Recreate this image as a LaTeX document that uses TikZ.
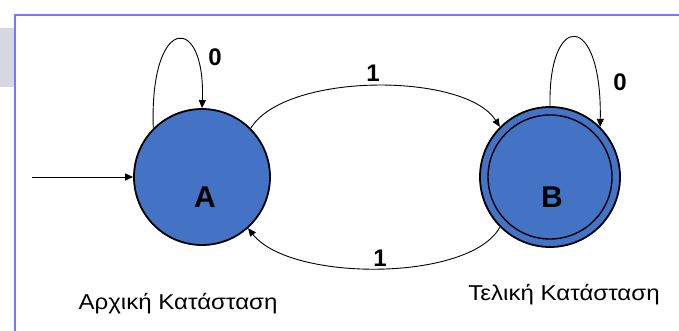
\documentclass[tikz,border=0pt]{standalone}
\usepackage{fontspec}
\setmainfont{Liberation Sans}
\newfontfamily\capfont{Liberation Sans}[FakeStretch=1.12]
\usetikzlibrary{arrows.meta}
\definecolor{stateblue}{HTML}{4472C4}
\definecolor{framecol}{HTML}{7777FF}
\definecolor{tabgrey}{HTML}{D6D7E1}
\tikzset{
  statenode/.style={circle, draw=black, line width=1.8pt, fill=stateblue, minimum size=136pt, inner sep=0pt},
  finalnode/.style={circle, draw=black, line width=1.8pt, fill=stateblue, minimum size=140pt, inner sep=0pt},
  innerring/.style={circle, draw=black, line width=1.4pt, minimum size=124pt, inner sep=0pt},
  edge/.style={line width=0.9pt, -{Triangle[length=8pt,width=7pt]}},
  statelabel/.style={font=\fontsize{30}{30}\selectfont\bfseries, anchor=base},
  sym/.style={font=\fontsize{24}{24}\selectfont\bfseries, anchor=base},
  caption/.style={font=\capfont\fontsize{21.5}{21.5}\selectfont, anchor=base}
}
\begin{document}
\begin{tikzpicture}[x=1pt,y=-1pt]
\useasboundingbox (0,0) rectangle (679,331);
\fill[tabgrey] (0,28) rectangle (14,87);
\draw[framecol, line width=2.5pt] (15,340) -- (15,15) -- (690,15);

\node[statenode] (A) at (202,177) {};
\node[finalnode] (B) at (550,177) {};
\node[innerring] (Bin) at (550,177) {};

\node[statelabel] (la) at (205,207) {A};
\node[statelabel] (lb) at (552,207) {B};

\coordinate (start) at (32,177);
\draw[edge] (start) -- (A.west);

\draw[edge] (A.135) .. controls +(-4,-115) and +(4,-95) .. (A.90);
\draw[edge] (B.90) .. controls +(-2,-95) and +(2,-116) .. (B.45);
\draw[edge] (A.45) .. controls (285,72) and (465,72) .. (B.135);
\draw[edge] (B.225) .. controls (470,282) and (290,282) .. (A.-48);

\node[sym] (z1) at (215,66) {0};
\node[sym] (z2) at (620,91) {0};
\node[sym] (o1) at (373,82) {1};
\node[sym] (o2) at (380,266) {1};

\node[caption] (ca) at (178,309) {Αρχική Κατάσταση};
\node[caption] (cb) at (564,300) {Τελική Κατάσταση};
\end{tikzpicture}
\end{document}
